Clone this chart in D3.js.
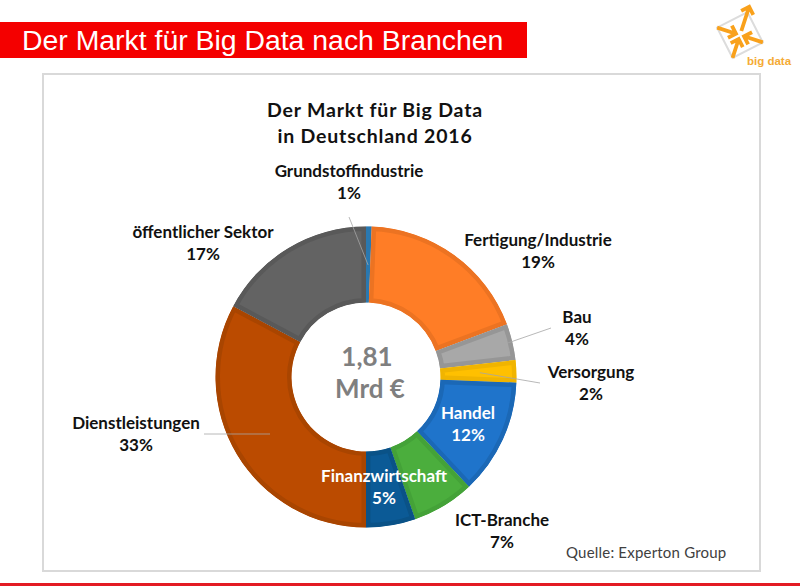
<!DOCTYPE html>
<html>
<head>
<meta charset="utf-8">
<script src="https://cdn.jsdelivr.net/npm/d3@7"></script>
<style>
  body { margin: 0; background: #fff; }
  svg { display: block; }
  text { font-family: Lato, "Open Sans", sans-serif; }
</style>
</head>
<body>
<div id="container"></div>
<script>
const width = 800, height = 586;

// Data, clockwise from 12 o'clock (shares, labels show them rounded)
const branches = ["Grundstoffindustrie", "Fertigung/Industrie", "Bau", "Versorgung", "Handel", "ICT-Branche", "Finanzwirtschaft", "Dienstleistungen", "öffentlicher Sektor"];
const shares = [0.6, 18.7, 3.9, 2.4, 12.4, 6.7, 5.3, 32.8, 17.2];
const fills = ["#2a84c4", "#ff7d26", "#a8a8a8", "#ffc000", "#1f74cb", "#4bae3d", "#0b5a96", "#bb4b00", "#636363"];
const edges = ["#2a78b0", "#ec7322", "#969696", "#f0b400", "#1b68b6", "#44a238", "#0a5287", "#a94500", "#595959"];

// label anchor positions, same order as branches
const labelX = [349, 538, 577, 591, 468, 502, 384, 136, 203];
const labelY = [177, 246, 323, 378, 419, 526, 482, 429, 238];
const labelColor = ["#111", "#111", "#111", "#111", "#fff", "#111", "#fff", "#111", "#111"];

const cx = 366, cy = 377, outer = 150.5, inner = 74.5;

const svg = d3.select("#container")
  .append("svg")
  .attr("width", width)
  .attr("height", height);

// Slide header
svg.append("rect").attr("x", 0).attr("y", 22).attr("width", 527).attr("height", 36).attr("fill", "#f40000");
svg.append("text")
  .attr("x", 22).attr("y", 50)
  .style("font-family", "'Liberation Sans', Arial, sans-serif")
  .style("font-size", "28.4px")
  .attr("fill", "#fff")
  .text("Der Markt für Big Data nach Branchen");

svg.append("rect").attr("x", 0).attr("y", 583).attr("width", width).attr("height", 3).attr("fill", "#e31b23");

// Chart frame
svg.append("rect")
  .attr("x", 43).attr("y", 74).attr("width", 717).attr("height", 497)
  .attr("fill", "#fff").attr("stroke", "#d9d9d9").attr("stroke-width", 2);

// Logo
const logo = svg.append("g").attr("transform", "translate(740,35) rotate(-27)");
logo.append("rect").attr("x", -17).attr("y", -17).attr("width", 34).attr("height", 34)
  .attr("fill", "#fff").attr("stroke", "#dcdcdc").attr("stroke-width", 2);
[[-1, -1, 17], [1, -1, 21], [1, 1, 17], [-1, 1, 17]].forEach(([sx, sy, len]) => {
  const g = logo.append("g").attr("fill", "none").attr("stroke", "#f9a11b").attr("stroke-width", 3.8);
  if (len > 20) {
    // the one arrow pointing out of the square
    g.append("path").attr("d", `M${sx * 3},${sy * 3}L${sx * len},${sy * len}M${sx * (len - 9)},${sy * len}H${sx * len}V${sy * (len - 9)}`);
  } else {
    g.append("path").attr("d", `M${sx * len},${sy * len}L${sx * 3},${sy * 3}M${sx * 12},${sy * 3}H${sx * 3}V${sy * 12}`);
  }
});
svg.append("text")
  .attr("x", 747).attr("y", 65)
  .style("font-family", "'Liberation Sans', Arial, sans-serif")
  .style("font-size", "11.5px")
  .style("font-weight", "bold")
  .attr("fill", "#f5ab35")
  .text("big data");

// Title
svg.append("text")
  .attr("x", 375).attr("y", 117)
  .attr("text-anchor", "middle")
  .style("font-size", "19.5px").style("font-weight", "bold").style("letter-spacing", "0.8px")
  .attr("fill", "#111")
  .text("Der Markt für Big Data");
svg.append("text")
  .attr("x", 375).attr("y", 143)
  .attr("text-anchor", "middle")
  .style("font-size", "19.5px").style("font-weight", "bold").style("letter-spacing", "0.8px")
  .attr("fill", "#111")
  .text("in Deutschland 2016");

// Donut
const pie = d3.pie().sort(null)(shares);
const arc = d3.arc().innerRadius(inner).outerRadius(outer);
const chart = svg.append("g").attr("transform", `translate(${cx},${cy})`);

const defs = svg.append("defs");
pie.forEach((d, i) => {
  defs.append("clipPath").attr("id", `slice${i}`).append("path").attr("d", arc(d));
});

const slices = chart.selectAll("g.slice").data(pie).enter().append("g").attr("class", "slice");
slices.append("path")
  .attr("d", arc)
  .attr("fill", (d, i) => fills[i])
  .attr("stroke", (d, i) => edges[i])
  .attr("stroke-width", 9)
  .attr("clip-path", (d, i) => `url(#slice${i})`);

// Leader lines, inner end sits on the middle of its slice
const polar = (d, r) => {
  const a = (d.startAngle + d.endAngle) / 2;
  return [cx + r * Math.sin(a), cy - r * Math.cos(a)];
};
const leaders = [
  { from: [349, 217], to: polar(pie[0], 112) },
  { from: [551, 328], to: polar(pie[2], 146) },
  { from: [540, 383], to: polar(pie[3], 114) },
  { from: [204, 434], to: [270, 434] }
];
svg.selectAll("line.leader").data(leaders).enter().append("line")
  .attr("class", "leader")
  .attr("x1", d => d.from[0]).attr("y1", d => d.from[1])
  .attr("x2", d => d.to[0]).attr("y2", d => d.to[1])
  .attr("stroke", "#a6a6a6").attr("stroke-width", 0.8);

// Labels
branches.forEach((name, i) => {
  const t = svg.append("text")
    .attr("text-anchor", "middle")
    .attr("fill", labelColor[i])
    .style("font-size", "17px").style("font-weight", "bold");
  t.append("tspan").attr("x", labelX[i]).attr("y", labelY[i]).text(name);
  t.append("tspan").attr("x", labelX[i]).attr("y", labelY[i] + 22).text(Math.round(shares[i]) + "%");
});

// Centre
svg.append("text").attr("x", 367).attr("y", 366).attr("text-anchor", "middle")
  .style("font-size", "26px").style("font-weight", "bold").attr("fill", "#7f7f7f").text("1,81");
svg.append("text").attr("x", 370).attr("y", 398).attr("text-anchor", "middle")
  .style("font-size", "26px").style("font-weight", "bold").attr("fill", "#7f7f7f").text("Mrd €");

// Source
svg.append("text").attr("x", 566).attr("y", 558)
  .style("font-size", "15px").style("letter-spacing", "0.2px").attr("fill", "#404040")
  .text("Quelle: Experton Group");
</script>
</body>
</html>
